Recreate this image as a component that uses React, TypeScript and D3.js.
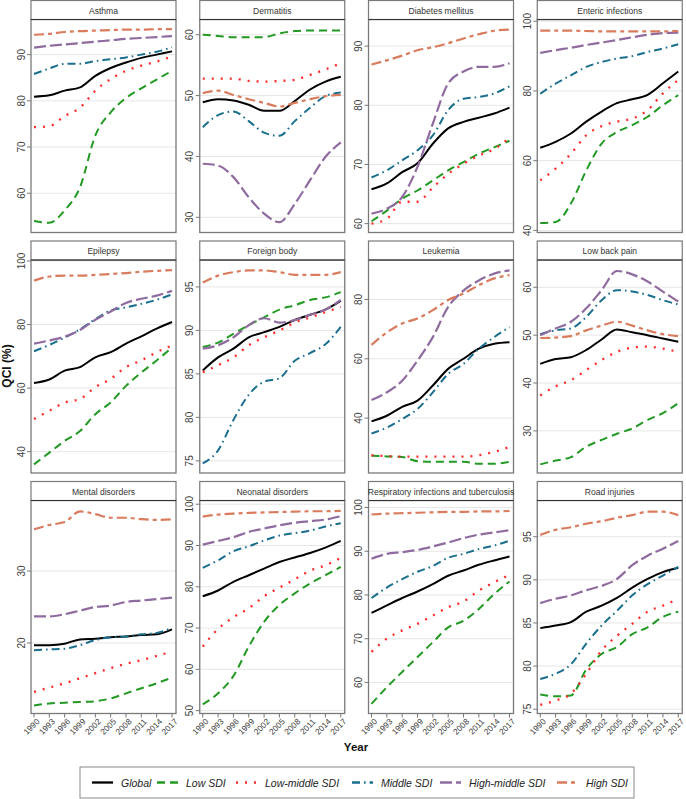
import React from "react";
import * as d3 from "d3";

// ---------- data ----------
const years = [1990, 1993, 1996, 1999, 2002, 2005, 2008, 2011, 2014, 2017];
const seriesNames = ["Global", "Low SDI", "Low-middle SDI", "Middle SDI", "High-middle SDI", "High SDI"];

// each disease: rows in order Global, Low, Low-middle, Middle, High-middle, High
const asthma = [
  [80.9, 81.2, 82.2, 82.9, 85.4, 87.1, 88.3, 89.3, 90.0, 90.7],
  [54.0, 53.6, 56.3, 61.3, 72.5, 77.5, 80.6, 82.7, 84.6, 86.5],
  [74.3, 74.5, 76.7, 78.5, 82.2, 84.7, 86.5, 87.6, 88.5, 89.6],
  [85.8, 87.0, 88.0, 88.0, 88.6, 89.0, 89.4, 90.0, 90.6, 91.6],
  [91.5, 91.9, 92.2, 92.5, 92.8, 93.1, 93.4, 93.6, 93.8, 94.0],
  [94.3, 94.5, 94.9, 95.1, 95.2, 95.3, 95.4, 95.4, 95.5, 95.5],
];
const dermatitis = [
  [48.9, 49.4, 49.2, 48.5, 47.5, 47.5, 49.1, 51.0, 52.3, 53.1],
  [60.0, 59.8, 59.6, 59.6, 59.6, 60.2, 60.6, 60.7, 60.7, 60.7],
  [52.8, 52.8, 52.8, 52.4, 52.3, 52.4, 52.6, 53.4, 54.3, 55.3],
  [44.8, 46.8, 47.4, 45.8, 43.9, 43.4, 45.8, 48.0, 49.9, 50.5],
  [38.8, 38.5, 36.6, 33.3, 30.6, 29.2, 32.2, 36.1, 39.9, 42.3],
  [50.4, 50.8, 50.1, 49.4, 48.8, 48.2, 48.8, 49.4, 49.9, 50.1],
];
const diabetes = [
  [65.8, 66.8, 68.7, 70.2, 73.5, 76.1, 77.2, 77.9, 78.6, 79.6],
  [60.4, 62.2, 64.2, 65.6, 67.3, 69.0, 70.4, 71.8, 72.9, 74.0],
  [60.0, 60.8, 63.7, 63.7, 66.1, 68.4, 70.1, 71.5, 72.6, 74.5],
  [67.8, 69.0, 70.7, 72.4, 74.9, 79.2, 81.1, 81.4, 82.0, 83.2],
  [61.7, 62.5, 64.5, 69.6, 76.9, 83.7, 85.7, 86.5, 86.5, 87.1],
  [86.9, 87.6, 88.4, 89.3, 89.8, 90.5, 91.3, 92.0, 92.6, 92.8],
];
const enteric = [
  [63.7, 65.4, 67.8, 71.2, 74.1, 76.5, 77.6, 78.9, 82.2, 85.6],
  [42.1, 42.4, 47.7, 57.2, 64.9, 68.2, 70.2, 72.6, 75.9, 78.8],
  [54.4, 57.7, 62.0, 67.3, 69.9, 71.2, 72.1, 74.5, 79.3, 83.1],
  [79.2, 82.1, 84.5, 86.9, 88.3, 89.3, 90.0, 91.2, 92.2, 93.4],
  [90.9, 91.7, 92.4, 93.2, 93.9, 94.6, 95.4, 96.1, 96.6, 96.7],
  [97.3, 97.3, 97.3, 97.2, 97.1, 97.1, 97.1, 97.1, 97.1, 97.2],
];
const epilepsy = [
  [61.6, 62.7, 65.5, 66.6, 69.7, 71.3, 74.0, 76.3, 78.7, 80.8],
  [36.0, 39.7, 43.4, 46.5, 51.8, 55.5, 60.7, 64.9, 68.7, 72.8],
  [50.3, 52.9, 55.5, 56.6, 60.3, 62.9, 66.6, 68.7, 71.3, 73.4],
  [71.6, 73.6, 75.9, 78.5, 81.7, 84.4, 85.4, 86.5, 87.8, 89.5],
  [74.0, 75.0, 76.2, 78.3, 81.5, 84.1, 86.8, 88.1, 89.1, 90.6],
  [93.8, 95.1, 95.4, 95.4, 95.6, 95.9, 96.2, 96.6, 96.9, 97.1],
];
const foreignBody = [
  [85.4, 86.9, 87.9, 89.2, 89.8, 90.4, 91.2, 91.8, 92.4, 93.4],
  [88.1, 88.6, 89.6, 90.6, 91.5, 92.4, 92.9, 93.5, 93.8, 94.4],
  [85.2, 86.0, 86.9, 88.3, 89.2, 90.0, 90.9, 91.5, 92.1, 92.7],
  [74.7, 76.2, 79.7, 82.6, 84.1, 84.5, 86.5, 87.4, 88.4, 90.4],
  [87.9, 88.3, 89.2, 90.6, 91.4, 90.9, 91.2, 91.8, 92.4, 93.5],
  [95.5, 96.3, 96.7, 96.9, 96.9, 96.7, 96.4, 96.4, 96.4, 96.7],
];
const leukemia = [
  [38.9, 40.8, 43.8, 45.9, 51.0, 56.6, 60.0, 63.4, 65.1, 65.6],
  [27.3, 27.1, 26.9, 25.5, 25.3, 25.3, 25.3, 24.6, 24.6, 25.3],
  [27.5, 27.2, 27.0, 27.0, 27.0, 27.0, 27.0, 27.5, 28.6, 30.3],
  [34.8, 36.8, 39.7, 43.1, 48.7, 54.9, 58.3, 63.4, 67.3, 70.7],
  [46.1, 48.7, 52.6, 59.4, 67.3, 77.5, 83.0, 86.4, 88.7, 89.8],
  [64.7, 68.9, 71.9, 73.6, 76.4, 79.8, 82.0, 84.8, 87.1, 88.2],
];
const lowBackPain = [
  [44.0, 45.0, 45.4, 46.9, 49.1, 51.2, 50.6, 50.0, 49.3, 48.6],
  [23.0, 23.8, 24.5, 26.7, 28.1, 29.4, 30.5, 32.3, 33.7, 35.8],
  [37.4, 39.3, 40.6, 42.7, 44.8, 46.5, 47.4, 47.6, 47.2, 46.5],
  [50.2, 51.0, 51.4, 53.8, 57.3, 59.4, 59.1, 58.4, 57.3, 56.4],
  [50.0, 51.4, 52.8, 55.6, 59.4, 63.4, 62.7, 61.2, 59.1, 57.0],
  [49.4, 49.5, 49.8, 51.0, 52.0, 52.8, 52.0, 51.0, 50.2, 49.8],
];
const mental = [
  [19.7, 19.7, 19.9, 20.5, 20.6, 20.8, 20.9, 21.1, 21.2, 21.9],
  [11.3, 11.6, 11.7, 11.8, 11.9, 12.3, 13.0, 13.7, 14.4, 15.2],
  [13.2, 13.8, 14.4, 15.1, 15.8, 16.5, 17.1, 17.6, 18.2, 18.8],
  [19.0, 19.1, 19.2, 19.7, 20.4, 20.8, 20.9, 21.2, 21.4, 22.1],
  [23.7, 23.7, 24.0, 24.5, 25.0, 25.2, 25.7, 25.9, 26.1, 26.3],
  [35.8, 36.4, 36.8, 38.3, 37.9, 37.4, 37.4, 37.2, 37.1, 37.2],
];
const neonatal = [
  [77.7, 79.1, 81.2, 82.8, 84.4, 86.0, 87.1, 88.2, 89.5, 91.1],
  [51.5, 54.2, 58.4, 65.5, 71.5, 75.6, 78.4, 80.8, 82.8, 84.8],
  [65.5, 69.8, 72.6, 74.8, 77.7, 79.8, 81.8, 83.9, 85.2, 87.0],
  [84.6, 86.4, 88.6, 89.8, 91.2, 92.4, 93.0, 93.6, 94.6, 95.4],
  [90.2, 91.1, 92.0, 93.3, 94.1, 94.9, 95.5, 95.9, 96.3, 97.1],
  [97.0, 97.5, 97.7, 97.9, 98.0, 98.1, 98.2, 98.3, 98.3, 98.4],
];
const respiratory = [
  [75.9, 77.6, 79.3, 80.8, 82.5, 84.4, 85.6, 86.9, 87.9, 88.8],
  [55.1, 58.9, 62.4, 65.8, 69.2, 72.6, 74.1, 76.8, 80.2, 83.1],
  [67.0, 70.0, 71.9, 73.4, 75.3, 77.2, 78.5, 81.0, 82.9, 84.6],
  [79.3, 81.7, 83.6, 85.3, 86.6, 88.5, 89.4, 90.5, 91.3, 92.4],
  [88.3, 89.4, 89.8, 90.3, 91.1, 92.0, 93.0, 93.8, 94.3, 94.8],
  [98.4, 98.6, 98.7, 98.8, 98.9, 99.0, 99.0, 99.1, 99.1, 99.2],
];
const road = [
  [84.4, 84.7, 85.1, 86.3, 87.0, 87.9, 89.1, 90.1, 90.9, 91.4],
  [76.7, 76.5, 76.6, 79.6, 81.4, 82.2, 83.7, 84.5, 85.7, 86.3],
  [75.5, 76.0, 76.8, 79.1, 81.8, 83.5, 84.9, 86.3, 87.0, 87.8],
  [78.5, 79.1, 80.2, 82.6, 84.7, 86.4, 88.2, 89.5, 90.5, 91.5],
  [87.3, 87.8, 88.2, 88.8, 89.3, 90.1, 91.7, 92.8, 93.6, 94.5],
  [95.2, 95.8, 96.1, 96.5, 96.8, 97.2, 97.5, 97.9, 97.9, 97.5],
];

const diseaseNames = [
  "Asthma", "Dermatitis", "Diabetes mellitus", "Enteric infections",
  "Epilepsy", "Foreign body", "Leukemia", "Low back pain",
  "Mental disorders", "Neonatal disorders", "Respiratory infections and tuberculosis", "Road injuries",
];
const diseaseData = [asthma, dermatitis, diabetes, enteric, epilepsy, foreignBody, leukemia, lowBackPain, mental, neonatal, respiratory, road];
const yTicks = [
  [60, 70, 80, 90], [30, 40, 50, 60], [60, 70, 80, 90], [40, 60, 80, 100],
  [40, 60, 80, 100], [75, 80, 85, 90, 95], [40, 60, 80], [30, 40, 50, 60],
  [20, 30], [50, 60, 70, 80, 90, 100], [60, 70, 80, 90, 100], [75, 80, 85, 90, 95],
];
const yDomains = [
  [51.5, 97.6], [27.5, 62.5], [58.5, 94.5], [39.4, 100.5],
  [33.3, 100.3], [73.6, 98.1], [21.5, 93.3], [21.2, 65.7],
  [10.2, 39.8], [49.3, 100.9], [52.9, 101.6], [74.5, 99.2],
];
const xTicks = [1990, 1993, 1996, 1999, 2002, 2005, 2008, 2011, 2014, 2017];

// ---------- styles ----------
const colors = ["#000000", "#229922", "#ff2b2b", "#1a6e8e", "#8f6b9f", "#d97b5c"];
const dashes = ["", "8,5", "2,7", "8,4,1.6,4", "12,4", "10,4,4,4"];
const widths = [2, 2, 2.3, 2, 2.2, 2.2];

const FONT = "'Liberation Sans', Arial, Helvetica, sans-serif";
const COL_X0 = 31;
const COL_STEP = 168.75;
const PANEL_W = 145;
const ROW_STEP = 240.5;
const HEADER_H = 19;
const PLOT_H = 213;

function Panel({ idx }: { idx: number }) {
  const col = idx % 4;
  const row = Math.floor(idx / 4);
  const left = COL_X0 + col * COL_STEP;
  const top = 0.5 + row * ROW_STEP;
  const plotTop = top + HEADER_H;
  const plotBottom = plotTop + PLOT_H;
  const x = d3.scaleLinear().domain([1990, 2017]).range([left + 3, left + PANEL_W - 4]);
  const y = d3.scaleLinear().domain(yDomains[idx]).range([plotBottom, plotTop]);
  const line = d3
    .line<number>()
    .x((_, i) => x(years[i]))
    .y((d) => y(d))
    .curve(d3.curveMonotoneX);
  const data = diseaseData[idx];
  const clipId = `clip-${idx}`;
  return (
    <g>
      <defs>
        <clipPath id={clipId}>
          <rect x={left} y={plotTop} width={PANEL_W} height={PLOT_H} />
        </clipPath>
      </defs>
      <rect x={left} y={plotTop} width={PANEL_W} height={PLOT_H} fill="#fff" />
      {yTicks[idx].map((t) => (
        <g key={t}>
          <line x1={left} x2={left + PANEL_W} y1={y(t)} y2={y(t)} stroke="#e6e6e6" strokeWidth={1} />
          <line x1={left - 4} x2={left} y1={y(t)} y2={y(t)} stroke="#777" strokeWidth={1} />
          <text
            transform={`translate(${left - 10},${y(t)}) rotate(-90)`}
            textAnchor="middle"
            dominantBaseline="central"
            fontSize={10}
            fill="#404040"
            fontFamily={FONT}
          >
            {t}
          </text>
        </g>
      ))}
      <g clipPath={`url(#${clipId})`}>
        {data.map((s, si) => (
          <path
            key={si}
            d={line(s) || ""}
            fill="none"
            stroke={colors[si]}
            strokeWidth={widths[si]}
            strokeDasharray={dashes[si] || undefined}
          />
        ))}
      </g>
      <rect x={left} y={plotTop} width={PANEL_W} height={PLOT_H} fill="none" stroke="#7a7a7a" strokeWidth={1.3} />
      <rect x={left} y={top} width={PANEL_W} height={HEADER_H} fill="#fff" stroke="#7a7a7a" strokeWidth={1.2} />
      <line x1={left} x2={left + PANEL_W} y1={plotTop} y2={plotTop} stroke="#333" strokeWidth={1.2} />
      <text
        transform={`translate(${left + PANEL_W / 2},${top + 13}) scale(0.9,1)`}
        textAnchor="middle"
        fontSize={9.5}
        fill="#333"
        fontFamily={FONT}
      >
        {diseaseNames[idx]}
      </text>
      {row === 2 &&
        xTicks.map((t) => (
          <g key={t}>
            <line x1={x(t)} x2={x(t)} y1={plotBottom} y2={plotBottom + 4} stroke="#777" strokeWidth={1} />
            <text
              transform={`translate(${x(t) - 2.5},${plotBottom + 13}) rotate(-45)`}
              textAnchor="middle"
              dominantBaseline="central"
              fontSize={8.3}
              fill="#404040"
              fontFamily={FONT}
            >
              {t}
            </text>
          </g>
        ))}
    </g>
  );
}

const legendStarts = [92, 157, 236, 352, 440, 557];

export default function App() {
  return (
    <svg
      width={686}
      height={799}
      viewBox="0 0 686 799"
      style={{ position: "absolute", left: 0, top: 0, background: "#fff" }}
    >
      <rect x={0} y={0} width={686} height={799} fill="#fff" />
      {diseaseNames.map((_, i) => (
        <Panel key={i} idx={i} />
      ))}
      <text
        transform="translate(7,366) rotate(-90)"
        textAnchor="middle"
        dominantBaseline="central"
        fontSize={12}
        fontWeight="bold"
        fill="#111"
        fontFamily={FONT}
      >
        QCI (%)
      </text>
      <text x={356} y={751} textAnchor="middle" fontSize={11.5} fontWeight="bold" fill="#111" fontFamily={FONT}>
        Year
      </text>
      <rect x={80} y={767} width={554} height={31} fill="#fff" stroke="#888" strokeWidth={1} />
      {seriesNames.map((n, i) => (
        <g key={n}>
          <line
            x1={legendStarts[i]}
            x2={legendStarts[i] + 21}
            y1={782.5}
            y2={782.5}
            stroke={colors[i]}
            strokeWidth={widths[i] + 0.3}
            strokeDasharray={dashes[i] || undefined}
          />
          <text
            x={legendStarts[i] + 29}
            y={786.5}
            fontSize={10.5}
            fontStyle="italic"
            fill="#222"
            fontFamily={FONT}
          >
            {n}
          </text>
        </g>
      ))}
    </svg>
  );
}
